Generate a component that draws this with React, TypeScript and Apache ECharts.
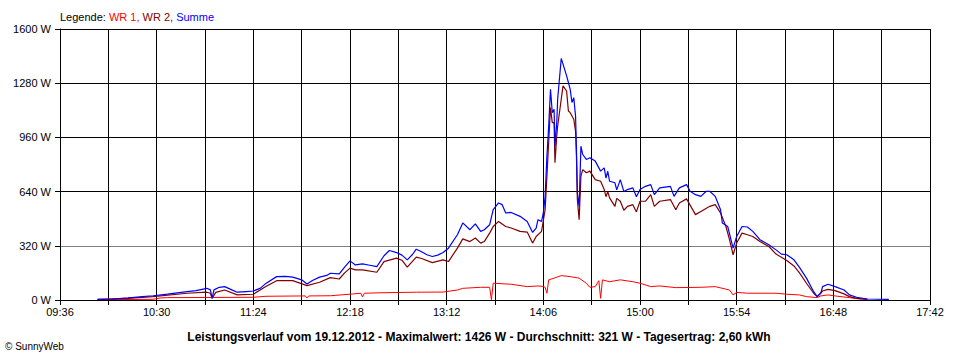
import React, { useEffect, useRef } from "react";
import * as echarts from "echarts";

const legendParts = ["Legende: ", "WR 1,", " WR 2,", " Summe"];
const yTicks = [0, 320, 640, 960, 1280, 1600];
const xStart = "09:36";
const xEnd = "17:42";
const titleText =
  "Leistungsverlauf vom 19.12.2012 - Maximalwert: 1426 W - Durchschnitt: 321 W - Tagesertrag: 2,60 kWh";
const copyright = "© SunnyWeb";

const wr1: [string, number][] = [
  ["09:57", 2], ["10:28", 4], ["10:32", 12], ["10:36", 14], ["11:24", 16], ["11:31", 22],
  ["11:53", 24], ["11:54", 12], ["11:55", 24], ["12:07", 25], ["12:20", 36], ["12:24", 40],
  ["12:25", 18], ["12:26", 40], ["12:37", 43], ["12:55", 46], ["13:10", 47], ["13:18", 59],
  ["13:21", 69], ["13:31", 75], ["13:36", 75], ["13:37", 2], ["13:38", 99], ["13:48", 93],
  ["13:57", 79], ["14:03", 83], ["14:06", 80], ["14:07", 75], ["14:08", 40], ["14:09", 119],
  ["14:12", 129], ["14:16", 144], ["14:21", 138], ["14:26", 129], ["14:30", 99], ["14:32", 75],
  ["14:35", 79], ["14:37", 114], ["14:38", 10], ["14:39", 119], ["14:43", 108], ["14:49", 119],
  ["14:56", 108], ["15:00", 99], ["15:06", 79], ["15:11", 83], ["15:20", 73], ["15:34", 75],
  ["15:42", 79], ["15:50", 59], ["15:52", 30], ["15:54", 45], ["16:00", 40], ["16:16", 40],
  ["16:22", 34], ["16:29", 30], ["16:33", 20], ["16:39", 14], ["16:41", 24], ["16:45", 30],
  ["16:49", 24], ["16:57", 14], ["17:01", 8], ["17:07", 4],
];

const wr2: [string, number][] = [
  ["09:57", 4], ["10:14", 10], ["10:28", 20], ["10:47", 40], ["10:58", 46], ["11:00", 40],
  ["11:01", 10], ["11:03", 45], ["11:08", 59], ["11:15", 30], ["11:24", 34], ["11:31", 80],
  ["11:37", 114], ["11:46", 114], ["11:54", 85], ["12:01", 105], ["12:07", 132], ["12:12", 124],
  ["12:15", 160], ["12:18", 188], ["12:21", 178], ["12:25", 178], ["12:33", 164], ["12:37", 227],
  ["12:44", 247], ["12:47", 235], ["12:50", 194], ["12:55", 253], ["12:58", 245], ["13:04", 221],
  ["13:10", 237], ["13:13", 227], ["13:18", 306], ["13:21", 361], ["13:25", 345], ["13:28", 366],
  ["13:31", 336], ["13:33", 345], ["13:36", 395], ["13:38", 434], ["13:41", 464], ["13:45", 434],
  ["13:48", 425], ["13:53", 405], ["13:57", 401], ["14:00", 336], ["14:02", 375], ["14:05", 405],
  ["14:07", 533], ["14:08", 731], ["14:10", 1136], ["14:11", 1047], ["14:12", 1047],
  ["14:12:30", 810], ["14:13:30", 968], ["14:14", 1027], ["14:16", 1185], ["14:17", 1264],
  ["14:19", 1234], ["14:20", 1116], ["14:21", 1106], ["14:23", 1067], ["14:24", 997],
  ["14:24:30", 849], ["14:25", 593], ["14:26", 474], ["14:27", 731], ["14:28", 770],
  ["14:30", 751], ["14:32", 761], ["14:35", 711], ["14:38", 701], ["14:40", 652], ["14:41", 610],
  ["14:42", 640], ["14:43", 603], ["14:46", 553], ["14:47", 600], ["14:49", 583], ["14:51", 530],
  ["14:53", 553], ["14:56", 563], ["14:58", 520], ["15:00", 583], ["15:03", 583], ["15:06", 622],
  ["15:08", 553], ["15:11", 583], ["15:17", 593], ["15:20", 533], ["15:22", 573], ["15:26", 597],
  ["15:31", 504], ["15:34", 523], ["15:39", 553], ["15:42", 563], ["15:45", 514], ["15:48", 434],
  ["15:50", 356], ["15:52", 267], ["15:54", 336], ["15:57", 395], ["16:00", 385], ["16:03", 375],
  ["16:07", 345], ["16:12", 316], ["16:16", 271], ["16:22", 233], ["16:26", 201], ["16:29", 162],
  ["16:33", 99], ["16:37", 40], ["16:39", 20], ["16:42", 53], ["16:45", 63], ["16:49", 55],
  ["16:54", 36], ["16:57", 20], ["17:01", 10], ["17:07", 4],
];

const summe: [string, number][] = [
  ["09:57", 4], ["10:05", 6], ["10:14", 12], ["10:16", 14], ["10:22", 20], ["10:28", 25],
  ["10:36", 35], ["10:47", 49], ["10:52", 55], ["10:58", 69], ["11:00", 60], ["11:01", 10],
  ["11:02", 60], ["11:05", 75], ["11:08", 79], ["11:12", 60], ["11:15", 46], ["11:20", 50],
  ["11:24", 53], ["11:28", 70], ["11:31", 98], ["11:37", 138], ["11:42", 140], ["11:46", 135],
  ["11:51", 119], ["11:54", 95], ["11:57", 115], ["12:01", 135], ["12:05", 145], ["12:07", 158],
  ["12:12", 154], ["12:15", 194], ["12:18", 231], ["12:21", 207], ["12:25", 213], ["12:29", 205],
  ["12:33", 197], ["12:37", 261], ["12:40", 292], ["12:44", 280], ["12:47", 265], ["12:50", 237],
  ["12:53", 270], ["12:55", 300], ["12:58", 285], ["13:01", 267], ["13:04", 257], ["13:07", 265],
  ["13:10", 280], ["13:13", 306], ["13:18", 385], ["13:21", 455], ["13:25", 415], ["13:28", 450],
  ["13:31", 405], ["13:33", 415], ["13:36", 444], ["13:38", 533], ["13:41", 573], ["13:43", 563],
  ["13:45", 514], ["13:48", 517], ["13:53", 494], ["13:57", 464], ["14:00", 399], ["14:02", 425],
  ["14:03", 474], ["14:05", 464], ["14:06", 514], ["14:07", 612], ["14:08", 849], ["14:09", 1027],
  ["14:10", 1244], ["14:11", 1106], ["14:12", 1126], ["14:12:30", 908], ["14:13:30", 1047],
  ["14:14", 1185], ["14:16", 1426], ["14:17", 1393], ["14:19", 1323], ["14:20", 1284],
  ["14:21", 1244], ["14:22", 1166], ["14:23", 1195], ["14:24", 1086], ["14:24:30", 889],
  ["14:25", 632], ["14:26", 553], ["14:27", 908], ["14:28", 859], ["14:30", 830], ["14:32", 840],
  ["14:35", 820], ["14:38", 761], ["14:40", 780], ["14:41", 720], ["14:42", 760], ["14:43", 701],
  ["14:46", 692], ["14:47", 650], ["14:49", 711], ["14:51", 640], ["14:53", 652], ["14:56", 662],
  ["14:58", 610], ["15:00", 652], ["15:03", 671], ["15:06", 681], ["15:08", 622], ["15:11", 662],
  ["15:17", 671], ["15:19", 612], ["15:22", 662], ["15:26", 681], ["15:28", 642], ["15:31", 622],
  ["15:34", 612], ["15:37", 642], ["15:39", 642], ["15:42", 612], ["15:45", 533], ["15:46", 455],
  ["15:49", 434], ["15:52", 306], ["15:54", 375], ["15:57", 434], ["16:00", 431], ["16:03", 405],
  ["16:07", 356], ["16:12", 326], ["16:16", 296], ["16:19", 271], ["16:22", 267], ["16:26", 237],
  ["16:29", 194], ["16:33", 129], ["16:37", 49], ["16:39", 20], ["16:41", 40], ["16:42", 79],
  ["16:45", 93], ["16:49", 79], ["16:54", 59], ["16:57", 30], ["17:01", 16], ["17:07", 6],
  ["17:19", 4],
];

const toMin = (s: string) => {
  const p = s.split(":").map(Number);
  return p[0] * 60 + p[1] + (p[2] || 0) / 60;
};
const fmt = (m: number) => {
  const h = Math.floor(m / 60);
  const mm = Math.round(m - h * 60);
  return String(h).padStart(2, "0") + ":" + String(mm).padStart(2, "0");
};
const conv = (arr: [string, number][]) => arr.map(([t, v]) => [toMin(t), v]);

const FONT = "'Liberation Sans', Arial, sans-serif";

export default function App() {
  const ref = useRef<HTMLDivElement>(null);
  useEffect(() => {
    if (!ref.current) return;
    const chart = echarts.init(ref.current, null, { renderer: "svg" });
    const xMin = toMin(xStart);
    const xMax = toMin(xEnd);
    chart.setOption({
      animation: false,
      backgroundColor: "#ffffff",
      textStyle: { fontFamily: FONT },
      grid: { left: 60, right: 30, top: 29, bottom: 60, containLabel: false },
      xAxis: {
        type: "value",
        min: xMin,
        max: xMax,
        interval: 27,
        axisLine: { show: true, lineStyle: { color: "#000", width: 1 } },
        axisTick: { show: true, length: 5, lineStyle: { color: "#000" } },
        axisLabel: {
          color: "#000",
          fontSize: 11,
          fontFamily: FONT,
          margin: 6,
          formatter: (v: number) => ((Math.round(v - xMin) % 54) === 0 ? fmt(v) : ""),
        },
        splitLine: { show: true, lineStyle: { color: "#000", width: 1 } },
      },
      yAxis: {
        type: "value",
        min: yTicks[0],
        max: yTicks[yTicks.length - 1],
        interval: yTicks[1] - yTicks[0],
        axisLine: { show: true, lineStyle: { color: "#000", width: 1 } },
        axisTick: { show: true, length: 5, lineStyle: { color: "#000" } },
        axisLabel: {
          color: "#000",
          fontSize: 11,
          fontFamily: FONT,
          margin: 9,
          formatter: (v: number) => v + " W",
        },
        splitLine: {
          show: true,
          lineStyle: { color: ["#000", "#808080", "#000", "#000", "#000", "#000"], width: 1 },
        },
      },
      graphic: [
        {
          type: "text",
          left: 60,
          top: 11,
          style: {
            text:
              "{a|" + legendParts[0] + "}{b|" + legendParts[1] + "}{c|" + legendParts[2] + "}{d|" + legendParts[3] + "}",
            fontFamily: FONT,
            fontSize: 11,
            rich: {
              a: { fill: "#000", fontSize: 11, fontFamily: FONT },
              b: { fill: "#ff0000", fontSize: 11, fontFamily: FONT },
              c: { fill: "#800000", fontSize: 11, fontFamily: FONT },
              d: { fill: "#0000ff", fontSize: 11, fontFamily: FONT },
            },
          },
        },
        {
          type: "text",
          x: 479,
          y: 337,
          style: {
            text: titleText,
            fill: "#000",
            fontFamily: FONT,
            fontSize: 12,
            fontWeight: "bold",
            textAlign: "center",
            textVerticalAlign: "middle",
          },
        },
        {
          type: "text",
          x: 5,
          y: 346,
          style: {
            text: copyright,
            fill: "#000",
            fontFamily: FONT,
            fontSize: 10,
            textAlign: "left",
            textVerticalAlign: "middle",
          },
        },
      ],
      series: [
        {
          name: "WR 1",
          type: "line",
          data: conv(wr1),
          showSymbol: false,
          lineStyle: { color: "#ff0000", width: 1 },
          itemStyle: { color: "#ff0000" },
        },
        {
          name: "WR 2",
          type: "line",
          data: conv(wr2),
          showSymbol: false,
          lineStyle: { color: "#800000", width: 1.2 },
          itemStyle: { color: "#800000" },
        },
        {
          name: "Summe",
          type: "line",
          data: conv(summe),
          showSymbol: false,
          lineStyle: { color: "#0000ff", width: 1.2 },
          itemStyle: { color: "#0000ff" },
        },
      ],
    });
    return () => chart.dispose();
  }, []);
  return (
    <div
      ref={ref}
      style={{ position: "fixed", left: 0, top: 0, width: 960, height: 360, background: "#fff" }}
    />
  );
}
